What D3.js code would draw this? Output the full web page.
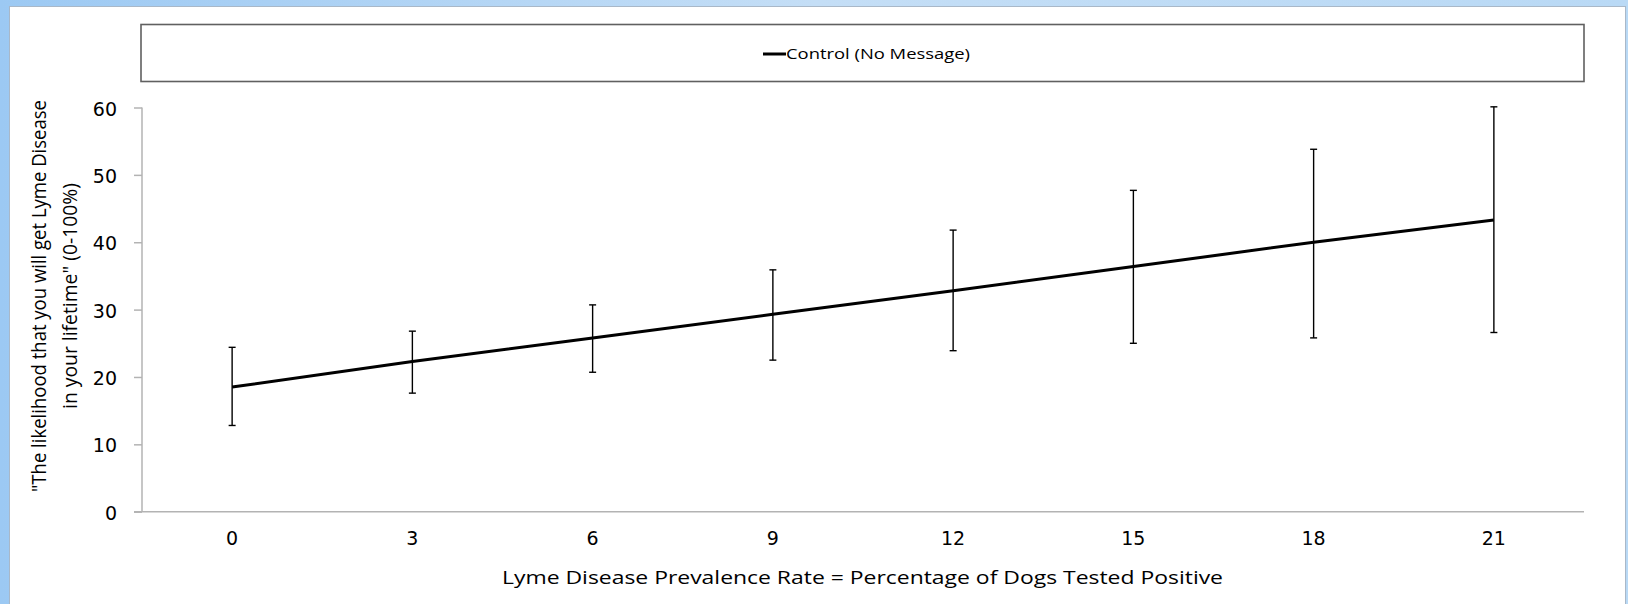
<!DOCTYPE html>
<html><head><meta charset="utf-8">
<script src="https://cdn.jsdelivr.net/npm/d3@7"></script>
<style>html,body{margin:0;padding:0;overflow:hidden;background:#fff}</style>
</head><body>
<svg id="c" width="1628" height="604"></svg>
<script>
const categories = [0, 3, 6, 9, 12, 15, 18, 21];
const means = [18.5, 22.3, 25.8, 29.3, 32.8, 36.4, 40.0, 43.3];
const upper = [24.4, 26.8, 30.7, 35.9, 41.8, 47.7, 53.8, 60.1];
const lower = [12.8, 17.6, 20.7, 22.5, 23.9, 25.0, 25.8, 26.6];
const yTicks = [0, 10, 20, 30, 40, 50, 60];
const seriesName = "Control (No Message)";
const xTitle = "Lyme Disease Prevalence Rate = Percentage of Dogs Tested Positive";
const yTitle1 = "\"The likelihood that you will get Lyme Disease";
const yTitle2 = "in your lifetime\" (0-100%)";

const svg = d3.select("#c");
const defs = svg.append("defs");
const g1 = defs.append("linearGradient").attr("id","bg").attr("x1","0").attr("x2","1").attr("y1","0").attr("y2","0");
g1.append("stop").attr("offset","0").attr("stop-color","#9cc9f3");
g1.append("stop").attr("offset","0.5").attr("stop-color","#c4def6");
g1.append("stop").attr("offset","1").attr("stop-color","#b9d9f5");
svg.append("rect").attr("width",1628).attr("height",604).attr("fill","url(#bg)");
svg.append("rect").attr("x",9.5).attr("y",6.5).attr("width",1616).attr("height",610)
  .attr("fill","#fff").attr("stroke","#a9b8c8").attr("stroke-width",1);

const x = d3.scaleBand().domain(categories).range([142, 1584]).padding(0);
const y = d3.scaleLinear().domain([0, 60]).range([511.7, 107.5]);
const cx = d => x(d) + x.bandwidth() / 2;

// legend
svg.append("rect").attr("x",141).attr("y",24.5).attr("width",1443).attr("height",57)
  .attr("fill","#fff").attr("stroke","#606060").attr("stroke-width",1.6);
svg.append("line").attr("x1",763).attr("x2",786).attr("y1",54).attr("y2",54)
  .attr("stroke","#000").attr("stroke-width",3);
svg.append("text").attr("x",786).attr("y",59).attr("font-family","'Open Sans', Lato, sans-serif")
  .attr("font-size",14.5).attr("textLength",184).attr("lengthAdjust","spacingAndGlyphs")
  .attr("fill","#000").text(seriesName);

const tickFont = "'DejaVu Sans', Verdana, sans-serif";

// y axis
const yAxis = d3.axisLeft(y).tickValues(yTicks).tickSize(8).tickPadding(17);
const ya = svg.append("g").attr("transform","translate(142,0)").call(yAxis)
  .attr("font-family", tickFont).attr("font-size", 19);
ya.select(".domain").attr("stroke","#b3b3b3").attr("stroke-width",1.5).attr("d","M0,107.5V511.7");
ya.selectAll(".tick line").attr("stroke","#b3b3b3").attr("stroke-width",1.5);
ya.selectAll(".tick text").style("font-family", tickFont).style("font-size","19px")
  .attr("fill","#000").attr("dy","0.4em");

// x axis
const xAxis = d3.axisBottom(x).tickSize(0).tickPadding(20);
const xa = svg.append("g").attr("transform",`translate(0,${y(0)})`).call(xAxis)
  .attr("font-family", tickFont).attr("font-size", 19);
xa.select(".domain").attr("stroke","#b3b3b3").attr("stroke-width",1.5).attr("d","M134,0H1584");
xa.selectAll(".tick text").style("font-family", tickFont).style("font-size","19px").attr("fill","#000");

// titles
svg.append("text").attr("x",502).attr("y",584).attr("font-family","'Open Sans', Lato, sans-serif")
  .attr("font-size",18).attr("textLength",721).attr("lengthAdjust","spacingAndGlyphs")
  .attr("fill","#000").text(xTitle);
const yt = svg.append("g").attr("transform","translate(0,296) rotate(-90)");
yt.append("text").attr("x",0).attr("y",46).attr("text-anchor","middle")
  .attr("font-family","'Liberation Sans Narrow', 'Open Sans', sans-serif").attr("font-size",20)
  .attr("textLength",392).attr("lengthAdjust","spacingAndGlyphs").attr("fill","#000").text(yTitle1);
yt.append("text").attr("x",0).attr("y",77).attr("text-anchor","middle")
  .attr("font-family","'Liberation Sans Narrow', 'Open Sans', sans-serif").attr("font-size",20)
  .attr("textLength",226).attr("lengthAdjust","spacingAndGlyphs").attr("fill","#000").text(yTitle2);

// error bars
const eb = svg.append("g").attr("stroke","#000").attr("stroke-width",1.4);
categories.forEach((c, i) => {
  eb.append("line").attr("x1",cx(c)).attr("x2",cx(c)).attr("y1",y(upper[i])).attr("y2",y(lower[i]));
  eb.append("line").attr("x1",cx(c)-3.5).attr("x2",cx(c)+3.5).attr("y1",y(upper[i])).attr("y2",y(upper[i]));
  eb.append("line").attr("x1",cx(c)-3.5).attr("x2",cx(c)+3.5).attr("y1",y(lower[i])).attr("y2",y(lower[i]));
});

// line
const line = d3.line().x((d, i) => cx(categories[i])).y(d => y(d));
svg.append("path").datum(means).attr("d", line).attr("fill","none").attr("stroke","#000").attr("stroke-width",3);
</script>
</body></html>
